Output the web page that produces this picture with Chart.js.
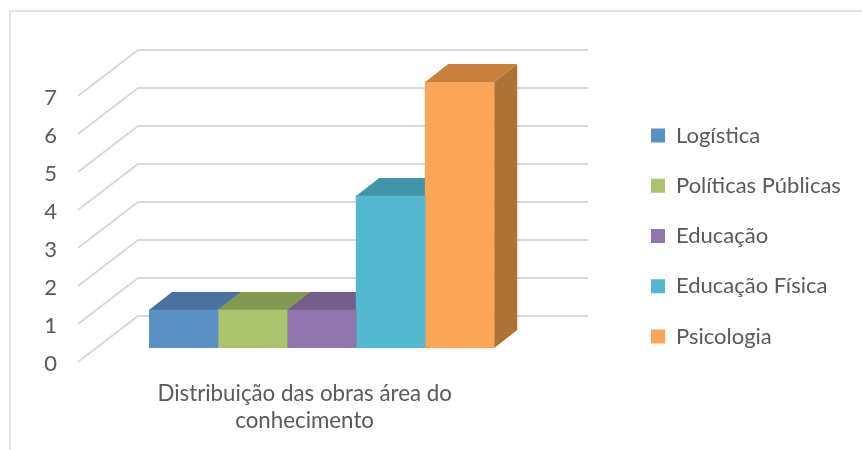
<!DOCTYPE html>
<html>
<head>
<meta charset="utf-8">
<script src="https://cdn.jsdelivr.net/npm/chart.js@4"></script>
<style>
  html, body { margin: 0; padding: 0; background: #fff; }
  canvas { display: block; }
</style>
</head>
<body>
<canvas id="obrasChart" width="862" height="450"></canvas>
<script>
const categoryLabel = ['Distribuição das obras área do', 'conhecimento'];
const areas = ['Logística', 'Políticas Públicas', 'Educação', 'Educação Física', 'Psicologia'];
const obras = [1, 1, 1, 4, 7];
const frontColors = ['#5B90C5', '#A9C46C', '#9176AD', '#53B8D0', '#FAA557'];
const topColors = ['#4B729F', '#849950', '#755E8A', '#4294A8', '#C8803E'];
const sideColors = ['#3F6288', '#6F8243', '#624E75', '#377E8F', '#AD7234'];

const textColor = '#595959';
const fontFamily = 'Lato, sans-serif';
const fontSize = 22;

// fake 3d: bars stand in the middle of the floor, offsets are relative to the bar front
const barDepth = { x: 23, y: -18 };
const wall = { frontX: 78, backX: 138, rightX: 588, frontY: 14, backY: -32 };

const box3d = {
  id: 'box3d',
  afterLayout(chart) {
    // legend sits away from the plot, not right next to it
    const legend = chart.legend;
    legend.left = 651 - legend.options.labels.padding;
    legend.right = 862;
    legend.top -= 55;
  },
  beforeDraw(chart) {
    const ctx = chart.ctx;
    ctx.save();
    ctx.strokeStyle = '#E4E4E4';
    ctx.lineWidth = 2;
    ctx.beginPath();
    ctx.moveTo(10, 450);
    ctx.lineTo(10, 11);
    ctx.lineTo(862, 11);
    ctx.stroke();
    ctx.restore();
  },
  beforeDatasetsDraw(chart) {
    const ctx = chart.ctx;
    const y = chart.scales.y;
    ctx.save();
    ctx.strokeStyle = '#D9D9D9';
    ctx.lineWidth = 2;
    y.ticks.forEach(t => {
      const py = y.getPixelForValue(t.value);
      ctx.beginPath();
      ctx.moveTo(wall.frontX, py + wall.frontY);
      ctx.lineTo(wall.backX, py + wall.backY);
      ctx.lineTo(wall.rightX, py + wall.backY);
      ctx.stroke();
    });
    areas.forEach((a, i) => {
      const bar = chart.getDatasetMeta(i).data[0];
      const left = bar.x - bar.width / 2;
      const right = bar.x + bar.width / 2;
      ctx.fillStyle = sideColors[i];
      ctx.beginPath();
      ctx.moveTo(right, bar.y);
      ctx.lineTo(right + barDepth.x, bar.y + barDepth.y);
      ctx.lineTo(right + barDepth.x, bar.base + barDepth.y);
      ctx.lineTo(right, bar.base);
      ctx.closePath();
      ctx.fill();
      ctx.fillStyle = topColors[i];
      ctx.beginPath();
      ctx.moveTo(left, bar.y);
      ctx.lineTo(left + barDepth.x, bar.y + barDepth.y);
      ctx.lineTo(right + barDepth.x, bar.y + barDepth.y);
      ctx.lineTo(right, bar.y);
      ctx.closePath();
      ctx.fill();
    });
    ctx.restore();
  }
};

new Chart(document.getElementById('obrasChart'), {
  type: 'bar',
  data: {
    labels: [categoryLabel],
    datasets: areas.map((a, i) => ({
      label: a,
      data: [obras[i]],
      backgroundColor: frontColors[i],
      categoryPercentage: 1,
      barPercentage: 1
    }))
  },
  options: {
    responsive: false,
    animation: false,
    devicePixelRatio: 1,
    layout: {
      autoPadding: false,
      padding: { left: 30, top: 82, bottom: 5, right: 213 }
    },
    scales: {
      x: {
        grid: { display: false },
        border: { display: false },
        ticks: {
          color: textColor,
          font: { family: fontFamily, size: 22.3, lineHeight: 1.22 },
          maxRotation: 0,
          autoSkip: false,
          padding: 24,
          labelOffset: -17
        },
        afterFit(scale) { scale.height = 97; }
      },
      y: {
        min: 0,
        max: 7,
        grid: { display: false },
        border: { display: false },
        ticks: {
          stepSize: 1,
          color: textColor,
          font: { family: fontFamily, size: fontSize },
          padding: 84,
          labelOffset: 16
        },
        afterFit(scale) {
          scale.width = 119;
          // tick padding otherwise ends up as space above the plot
          scale.paddingTop = 0;
          scale.paddingBottom = 0;
        }
      }
    },
    plugins: {
      tooltip: { enabled: false },
      legend: {
        position: 'right',
        labels: {
          boxWidth: 14,
          boxHeight: 14,
          padding: 28.25,
          color: textColor,
          font: { family: fontFamily, size: fontSize }
        }
      }
    }
  },
  plugins: [box3d]
});
</script>
</body>
</html>
